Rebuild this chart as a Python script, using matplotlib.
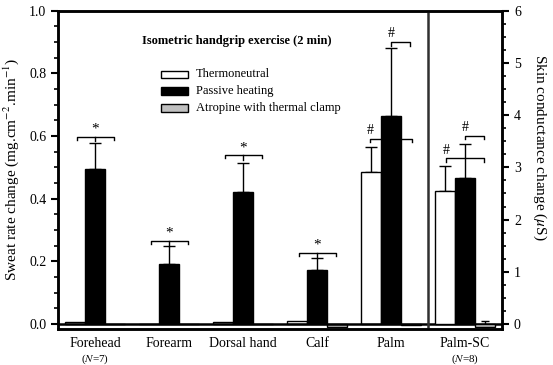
import numpy as np
import matplotlib.pyplot as plt

plt.rcParams['font.family'] = ['Liberation Serif', 'DejaVu Serif']
plt.rcParams['mathtext.fontset'] = 'stix'

sites = ["Forehead", "Forearm", "Dorsal hand", "Calf", "Palm", "Palm-SC"]
n_labels = ["7", "", "", "", "", "8"]

# sweat rate change (mg.cm-2.min-1), first five sites
thermo = [0.006, 0.0, 0.005, 0.008, 0.485]
thermo_err = [0.0, 0.0, 0.0, 0.0, 0.081]
heat = [0.495, 0.192, 0.420, 0.173, 0.665]
heat_err = [0.082, 0.056, 0.095, 0.037, 0.216]
atro = [0.0, 0.0, 0.0, -0.009, -0.003]

# skin conductance change (uS), palm-SC
sc_thermo, sc_thermo_err = 2.55, 0.47
sc_heat, sc_heat_err = 2.79, 0.66
sc_atro, sc_atro_err = -0.05, 0.11

# significance brackets
star_brackets = [(0, 0.598), (1, 0.265), (2, 0.539), (3, 0.228)]
hash_brackets = [(4, -0.28, 0.28, 0.591, 'l'), (4, 0.0, 0.26, 0.899, 'l'),
                 (5, -0.26, 0.26, 3.17, 'r'), (5, 0.0, 0.26, 3.60, 'r')]

w = 0.27
x = np.arange(5)

fig = plt.figure(figsize=(5.53, 3.65), dpi=100)
ax = fig.add_axes([0.105, 0.0986, 0.803, 0.872])
ax2 = ax.twinx()

ekw = dict(elinewidth=1.0, capthick=1.0, ecolor='black')
cap = 4
ax.bar(x - w, thermo, w, color='white', edgecolor='black', lw=1.0, zorder=2)
ax.errorbar(x[4] - w, thermo[4], yerr=[[0], [thermo_err[4]]], fmt='none', capsize=cap, zorder=1, **ekw)
ax.bar(x, heat, w, color='black', edgecolor='black', lw=1.0, zorder=2)
ax.errorbar(x, heat, yerr=[np.zeros(5), heat_err], fmt='none', capsize=cap, zorder=1, **ekw)
ax.bar(x + w, atro, w, color='#c0c0c0', edgecolor='black', lw=1.0, zorder=2)

ax2.bar(5 - w, sc_thermo, w, color='white', edgecolor='black', lw=1.0, zorder=2)
ax2.errorbar(5 - w, sc_thermo, yerr=[[0], [sc_thermo_err]], fmt='none', capsize=cap, zorder=1, **ekw)
ax2.bar(5, sc_heat, w, color='black', edgecolor='black', lw=1.0, zorder=2)
ax2.errorbar(5, sc_heat, yerr=[[0], [sc_heat_err]], fmt='none', capsize=cap, zorder=1, **ekw)
ax2.bar(5 + w, sc_atro, w, color='#c0c0c0', edgecolor='black', lw=1.0, zorder=2)
ax2.errorbar(5 + w, sc_atro, yerr=[[0], [sc_atro_err]], fmt='none', capsize=3, zorder=1, **ekw)

ax.axhline(0, color='black', lw=1.8, zorder=3)
ax.axvline(4.5, color='#303030', lw=1.8, zorder=3)

# brackets
tick = 0.01
for i, h in star_brackets:
    ax.plot([i - 0.25, i - 0.25, i + 0.25, i + 0.25], [h - tick, h, h, h - tick], color='black', lw=1.0)
    ax.plot([i, i], [h, h - tick * 1.5], color='black', lw=1.0)
    ax.text(i, h + 0.003, '*', ha='center', va='bottom', fontsize=11)
for i, a, b, h, side in hash_brackets:
    a_ = ax if side == 'l' else ax2
    t = tick if side == 'l' else tick * 6
    a_.plot([i + a, i + a, i + b, i + b], [h - t, h, h, h - t], color='black', lw=1.0)
    a_.text(i + a, h + t * 0.6, '#', ha='center', va='bottom', fontsize=10)

ax.set_xlim(-0.5, 5.5)
ax.set_ylim(-0.016, 1.0)
ax2.set_ylim(-0.096, 6.0)

ax.set_xticks(np.arange(6))
ax.set_xticklabels(sites, fontsize=10)
ax.tick_params(axis='x', length=0, pad=6)
for i, n in enumerate(n_labels):
    if n:
        ax.text(i, -0.112, r'($\it{N}$=' + n + ')', ha='center', va='center', fontsize=8,
                clip_on=False)

ax.set_yticks(np.arange(0, 1.01, 0.2))
ax.set_yticklabels([f"{v:.1f}" for v in np.arange(0, 1.01, 0.2)], fontsize=10)
ax.set_yticks(np.arange(0, 1.001, 0.05), minor=True)
ax.tick_params(axis='y', which='major', length=5, width=1.5, direction='out')
ax.tick_params(axis='y', which='minor', length=3, width=1.2, direction='out')

ax2.set_yticks(np.arange(0, 7, 1))
ax2.set_yticklabels([str(v) for v in range(7)], fontsize=10)
ax2.set_yticks(np.arange(0, 6.01, 0.25), minor=True)
ax2.tick_params(axis='y', which='major', length=5, width=1.5, direction='out')
ax2.tick_params(axis='y', which='minor', length=3, width=1.2, direction='out')

for a in (ax, ax2):
    for s in a.spines.values():
        s.set_linewidth(1.8)

ax.set_ylabel(r'Sweat rate change (mg.cm$^{-2}$.min$^{-1}$)', fontsize=11, labelpad=6)
ax2.set_ylabel(r'Skin conductance change ($\mu$S)', fontsize=11, rotation=270, labelpad=16)
ax2.yaxis.set_label_coords(1.105, 0.57)

# legend
ax.text(0.19, 0.905, 'Isometric handgrip exercise (2 min)', transform=ax.transAxes,
        fontsize=9, fontweight='bold', va='center', ha='left')
leg_items = [('Thermoneutral', 'white'), ('Passive heating', 'black'),
             ('Atropine with thermal clamp', '#c0c0c0')]
for k, (lab, col) in enumerate(leg_items):
    yc = 0.800 - k * 0.053
    ax.add_patch(plt.Rectangle((0.231, yc - 0.012), 0.061, 0.024, transform=ax.transAxes,
                               facecolor=col, edgecolor='black', lw=1.0, clip_on=False))
    ax.text(0.31, yc, lab, transform=ax.transAxes, fontsize=9, va='center', ha='left')

fig.savefig('out.png', dpi=100)
